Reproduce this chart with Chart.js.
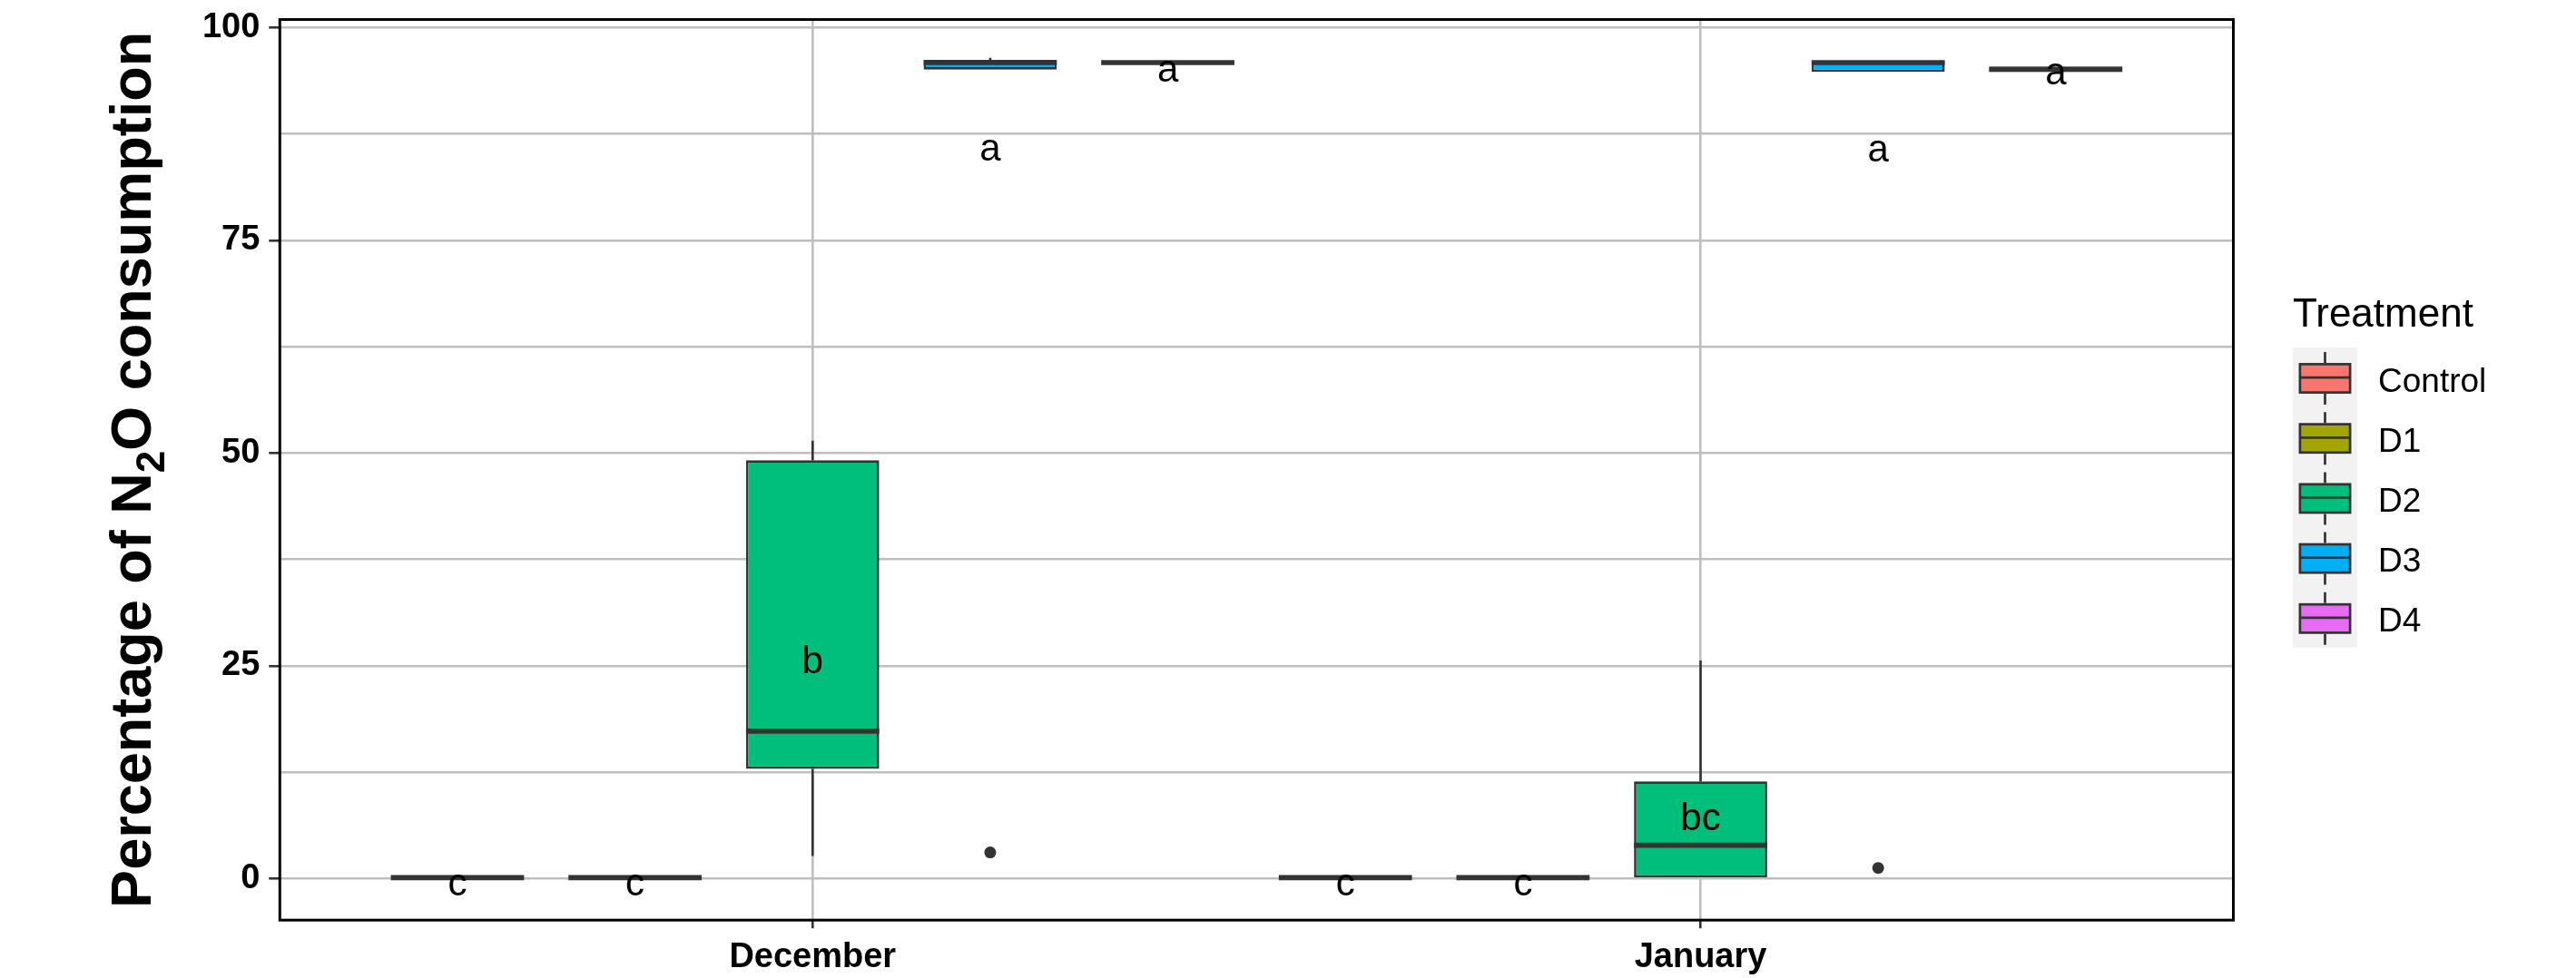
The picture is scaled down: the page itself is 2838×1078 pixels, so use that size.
<!DOCTYPE html>
<html>
<head>
<meta charset="utf-8">
<title>N2O consumption by treatment</title>
<script src="https://cdn.jsdelivr.net/npm/chart.js@4.4.1/dist/chart.umd.min.js"></script>
<style>
  html, body { margin: 0; padding: 0; background: #fff; }
  #wrap { width: 2838px; height: 1078px; }
</style>
</head>
<body>
<div id="wrap"><canvas id="chart" width="2838" height="1078"></canvas></div>
<script>
const months = ["December", "January"];
const treatments = ["Control", "D1", "D2", "D3", "D4"];
const fills = ["#F8766D", "#A3A500", "#00BF7D", "#00B0F6", "#E76BF3"];

// boxplot stats, one row per treatment, [December, January]
const whiskerLow  = [[0.1, 0.1], [0.1, 0.1], [2.64, 0],     [95.08, 94.8],  [95.9, 94.8]];
const q1          = [[0.1, 0.1], [0.1, 0.1], [12.89, 0],    [95.08, 94.8],  [95.9, 94.8]];
const median      = [[0.1, 0.1], [0.1, 0.1], [17.32, 3.91], [95.91, 95.9],  [95.9, 95.11]];
const q3          = [[0.1, 0.1], [0.1, 0.1], [49.16, 11.41],[96.07, 96.07], [95.9, 95.42]];
const whiskerHigh = [[0.1, 0.1], [0.1, 0.1], [51.47, 25.62],[96.46, 96.07], [95.9, 95.42]];
const outliers    = [[[], []], [[], []], [[], []], [[3.07], [1.24]], [[], []]];

// significance letters and where they sit
const letters = [["c", "c"], ["c", "c"], ["b", "bc"], ["a", "a"], ["a", "a"]];
const letterY = [[-0.77, -0.77], [-0.77, -0.77], [25.8, 7.37], [85.6, 85.5], [94.9, 94.6]];

const yGridValues = [0, 12.5, 25, 37.5, 50, 62.5, 75, 87.5, 100];
const yTickLabels = ["0", "25", "50", "75", "100"];

const INK = "#333333";
const FONT = "Liberation Sans, Arial, sans-serif";

// whiskers behind, medians / outliers / letters on top of the boxes
const boxExtras = {
  id: "boxExtras",
  beforeDatasetsDraw(chart) {
    const ctx = chart.ctx, y = chart.scales.y;
    ctx.save();
    ctx.strokeStyle = INK;
    ctx.lineWidth = 2.6;
    chart.data.datasets.forEach((ds, i) => {
      chart.getDatasetMeta(i).data.forEach((bar, j) => {
        ctx.beginPath();
        ctx.moveTo(bar.x, y.getPixelForValue(q3[i][j]));
        ctx.lineTo(bar.x, y.getPixelForValue(whiskerHigh[i][j]));
        ctx.moveTo(bar.x, y.getPixelForValue(q1[i][j]));
        ctx.lineTo(bar.x, y.getPixelForValue(whiskerLow[i][j]));
        ctx.stroke();
      });
    });
    ctx.restore();
  },
  afterDatasetsDraw(chart) {
    const ctx = chart.ctx, y = chart.scales.y;
    ctx.save();
    chart.data.datasets.forEach((ds, i) => {
      chart.getDatasetMeta(i).data.forEach((bar, j) => {
        const half = bar.width / 2;
        const my = y.getPixelForValue(median[i][j]);
        ctx.strokeStyle = INK;
        ctx.lineWidth = 5.6;
        ctx.beginPath();
        ctx.moveTo(bar.x - half, my);
        ctx.lineTo(bar.x + half, my);
        ctx.stroke();

        ctx.fillStyle = INK;
        outliers[i][j].forEach(v => {
          ctx.beginPath();
          ctx.arc(bar.x, y.getPixelForValue(v), 6.5, 0, Math.PI * 2);
          ctx.fill();
        });
      });
    });

    // letters centred on their glyph box, like grid text in R
    ctx.font = "42px " + FONT;
    ctx.fillStyle = "#000";
    ctx.textAlign = "center";
    ctx.textBaseline = "alphabetic";
    chart.data.datasets.forEach((ds, i) => {
      chart.getDatasetMeta(i).data.forEach((bar, j) => {
        const txt = letters[i][j];
        const m = ctx.measureText(txt);
        const cy = y.getPixelForValue(letterY[i][j]);
        ctx.fillText(txt, bar.x, cy + (m.actualBoundingBoxAscent - m.actualBoundingBoxDescent) / 2);
      });
    });
    ctx.restore();
  }
};

// panel border, y title with subscript, and the legend
const decorations = {
  id: "decorations",
  afterDraw(chart) {
    const ctx = chart.ctx, a = chart.chartArea;
    ctx.save();
    ctx.strokeStyle = "#000";
    ctx.lineWidth = 3;
    ctx.strokeRect(a.left, a.top, a.right - a.left, a.bottom - a.top);

    // y axis title
    const big = "bold 63px " + FONT, sub = "bold 44px " + FONT;
    const parts = [["Percentage of N", big, 0], ["2", sub, 15], ["O consumption", big, 0]];
    let total = 0;
    parts.forEach(p => { ctx.font = p[1]; total += ctx.measureText(p[0]).width; });
    ctx.translate(166, (a.top + a.bottom) / 2);
    ctx.rotate(-Math.PI / 2);
    ctx.fillStyle = "#000";
    ctx.textAlign = "left";
    ctx.textBaseline = "alphabetic";
    let x = -total / 2;
    parts.forEach(p => {
      ctx.font = p[1];
      ctx.fillText(p[0], x, p[2]);
      x += ctx.measureText(p[0]).width;
    });
    ctx.setTransform(1, 0, 0, 1, 0, 0);

    // legend
    const lx = a.right + 65.5, top = 383, keyH = 66.2, keyW = 71;
    ctx.font = "44px " + FONT;
    ctx.fillStyle = "#000";
    ctx.fillText("Treatment", lx, 359.5);
    ctx.fillStyle = "#F2F2F2";
    ctx.fillRect(lx, top, keyW, keyH * treatments.length);
    const cx = lx + keyW / 2;
    treatments.forEach((t, i) => {
      const ky = top + keyH * i;
      ctx.fillStyle = fills[i];
      ctx.fillRect(cx - 27.6, ky + 18.4, 55.2, 31.2);
      ctx.strokeStyle = INK;
      ctx.lineWidth = 2.7;
      ctx.strokeRect(cx - 27.6, ky + 18.4, 55.2, 31.2);
      ctx.beginPath();
      ctx.moveTo(cx, ky + 5); ctx.lineTo(cx, ky + 17);
      ctx.moveTo(cx, ky + 51); ctx.lineTo(cx, ky + 63);
      ctx.moveTo(cx - 27.6, ky + 33.1); ctx.lineTo(cx + 27.6, ky + 33.1);
      ctx.stroke();
      ctx.fillStyle = "#000";
      ctx.font = "37px " + FONT;
      ctx.fillText(t, lx + 94, ky + 33.1 + 15.5);
    });
    ctx.restore();
  }
};

const datasets = treatments.map((t, i) => ({
  label: t,
  data: months.map((m, j) => ({ x: j + 1, y: [q1[i][j], q3[i][j]] })),
  backgroundColor: fills[i],
  borderColor: INK,
  borderWidth: 2.6,
  borderSkipped: false,
  barPercentage: 0.75,
  categoryPercentage: 1.0
}));

new Chart(document.getElementById("chart"), {
  type: "bar",
  data: { datasets },
  plugins: [boxExtras, decorations],
  options: {
    responsive: false,
    devicePixelRatio: 1,
    animation: false,
    layout: { autoPadding: false, padding: { top: 21.5, right: 377.5, left: 0, bottom: 0 } },
    plugins: { legend: { display: false }, tooltip: { enabled: false } },
    scales: {
      x: {
        type: "linear",
        min: 0.4,
        max: 2.6,
        offset: false,
        afterBuildTicks: s => { s.ticks = months.map((m, j) => ({ value: j + 1 })); },
        afterFit: s => { s.height = 63.8; s.paddingLeft = 0; s.paddingRight = 0; },
        border: { display: false },
        grid: { offset: false, color: "#BEBEBE", lineWidth: 2.6, tickLength: 9, tickColor: INK, tickWidth: 2.6 },
        ticks: {
          callback: v => months[v - 1],
          font: { family: FONT, size: 38, weight: "bold" },
          color: "#000",
          padding: 10,
          maxRotation: 0,
          autoSkip: false
        }
      },
      y: {
        min: -4.89,
        max: 100.96,
        afterBuildTicks: s => { s.ticks = yGridValues.map(v => ({ value: v })); },
        afterFit: s => { s.width = 308.3; s.paddingTop = 0; s.paddingBottom = 0; },
        border: { display: false },
        grid: {
          color: "#BEBEBE",
          lineWidth: 2.6,
          tickLength: 12,
          tickWidth: 2.6,
          tickColor: c => (c.tick && c.tick.value % 25 === 0) ? INK : "rgba(0,0,0,0)"
        },
        ticks: {
          callback: v => (v % 25 === 0 ? yTickLabels[v / 25] : ""),
          font: { family: FONT, size: 38, weight: "bold" },
          color: "#000",
          padding: 10,
          autoSkip: false
        }
      }
    }
  }
});
</script>
</body>
</html>
